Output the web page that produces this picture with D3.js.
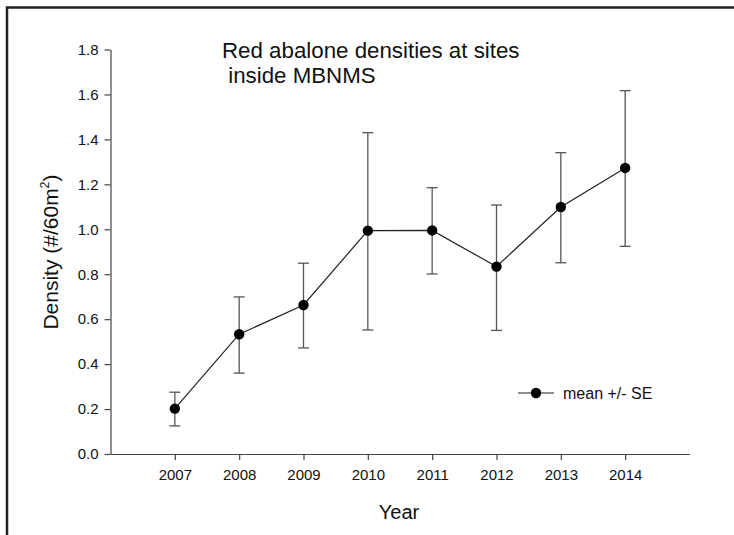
<!DOCTYPE html>
<html><head><meta charset="utf-8">
<script src="https://cdn.jsdelivr.net/npm/d3@7"></script>
<style>body{margin:0;background:#fff}svg{display:block}text{font-family:"Liberation Sans",Arial,sans-serif;fill:#111}</style>
</head><body><svg id="c" width="734" height="535"></svg>
<script>
const years = [2007, 2008, 2009, 2010, 2011, 2012, 2013, 2014];
const means = [0.202, 0.533, 0.663, 0.994, 0.995, 0.834, 1.099, 1.273];
const upper = [0.275, 0.699, 0.849, 1.430, 1.185, 1.108, 1.341, 1.617];
const lower = [0.125, 0.360, 0.472, 0.552, 0.801, 0.550, 0.851, 0.924];
const yTicks = [0, 0.2, 0.4, 0.6, 0.8, 1.0, 1.2, 1.4, 1.6, 1.8];
const titleLines = ["Red abalone densities at sites", " inside MBNMS"];
const legendLabel = "mean +/- SE";

const svg = d3.select("#c");
const x = d3.scaleLinear().domain([2006, 2015]).range([110.5, 689.5]);
const y = d3.scaleLinear().domain([0, 1.8]).range([454, 49.5]);
const axisColor = "#444";

// border
svg.append("path").attr("d", "M7,535 L7,7.5 L734,7.5").attr("fill", "none").attr("stroke", "#222").attr("stroke-width", 2.5);

// axes
const gx = svg.append("g").attr("transform", "translate(0,454)")
  .call(d3.axisBottom(x).tickValues(years).tickFormat(d3.format("d")).tickSize(6).tickSizeOuter(0).tickPadding(9));
const gy = svg.append("g").attr("transform", "translate(110.5,0)")
  .call(d3.axisLeft(y).tickValues(yTicks).tickFormat(d3.format(".1f")).tickSize(6).tickSizeOuter(0).tickPadding(6));
[gx, gy].forEach(g => {
  g.select(".domain").attr("stroke", axisColor).attr("stroke-width", 1.2);
  g.selectAll(".tick line").attr("stroke", axisColor).attr("stroke-width", 1.2);
  g.selectAll(".tick text").attr("fill", "#111").style("font-size", "15px");
});

const data = years.map((yr, i) => ({yr, m: means[i], hi: upper[i], lo: lower[i]}));

// error bars
const eb = svg.append("g").attr("stroke", "#555").attr("stroke-width", 1.3);
data.forEach(d => {
  eb.append("line").attr("x1", x(d.yr)).attr("x2", x(d.yr)).attr("y1", y(d.hi)).attr("y2", y(d.lo));
  eb.append("line").attr("x1", x(d.yr) - 5.5).attr("x2", x(d.yr) + 5.5).attr("y1", y(d.hi)).attr("y2", y(d.hi));
  eb.append("line").attr("x1", x(d.yr) - 5.5).attr("x2", x(d.yr) + 5.5).attr("y1", y(d.lo)).attr("y2", y(d.lo));
});

// line
svg.append("path").datum(data)
  .attr("d", d3.line().x(d => x(d.yr)).y(d => y(d.m)))
  .attr("fill", "none").attr("stroke", "#222").attr("stroke-width", 1.2);

// points
svg.append("g").selectAll("circle").data(data).join("circle")
  .attr("cx", d => x(d.yr)).attr("cy", d => y(d.m)).attr("r", 5.2).attr("fill", "#000");

// title
const t = svg.append("text").attr("x", 222).attr("y", 58).attr("font-size", 22.3);
titleLines.forEach((s, i) => t.append("tspan").attr("x", 222).attr("dy", i ? 24.5 : 0).attr("xml:space", "preserve").text(s));

// axis titles
svg.append("text").attr("x", 399).attr("y", 519).attr("text-anchor", "middle").attr("font-size", 20).text("Year");
const yl = svg.append("text").attr("transform", "translate(58,252) rotate(-90)").attr("text-anchor", "middle").attr("font-size", 21);
yl.append("tspan").text("Density (#/60m");
yl.append("tspan").attr("font-size", 12.5).attr("dy", -9).text("2");
yl.append("tspan").attr("dy", 9).text(")");

// legend
svg.append("line").attr("x1", 518).attr("x2", 554).attr("y1", 393).attr("y2", 393).attr("stroke", "#222").attr("stroke-width", 1.2);
svg.append("circle").attr("cx", 536).attr("cy", 393).attr("r", 5.2).attr("fill", "#000");
svg.append("text").attr("x", 563).attr("y", 399).attr("font-size", 16).text(legendLabel);
</script></body></html>
